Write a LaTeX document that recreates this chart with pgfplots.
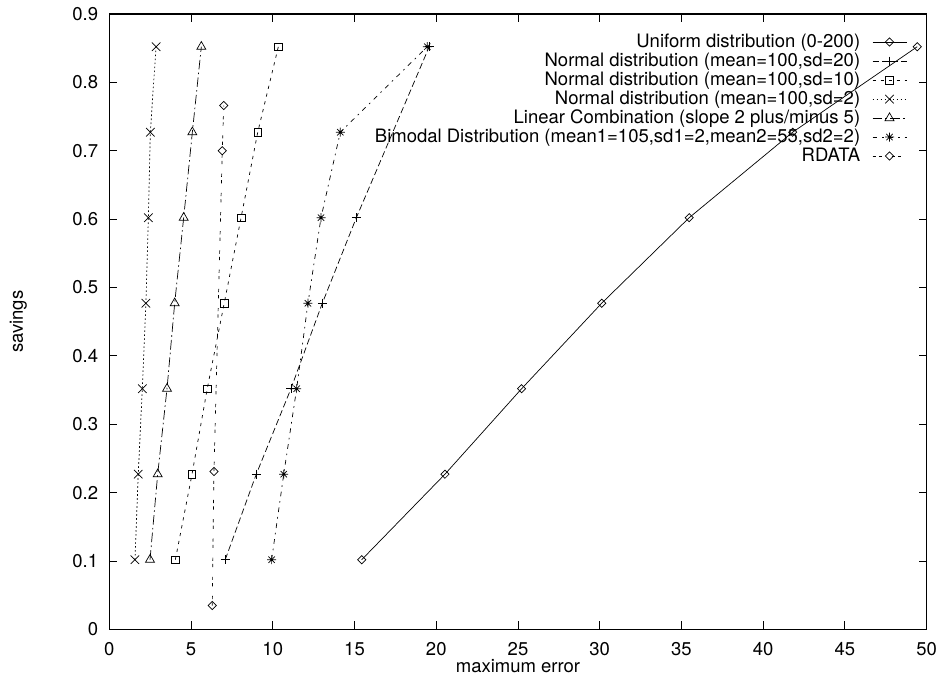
\documentclass[border=0pt]{standalone}
\usepackage{fontspec}
\setmainfont{TeX Gyre Heros}
\usepackage{pgfplots}
\pgfplotsset{compat=1.18}
\newcommand{\gf}{\fontsize{18.5}{22}\selectfont}
\pgfdeclareplotmark{gpstar}{%
  \pgfpathmoveto{\pgfqpoint{-\pgfplotmarksize}{0pt}}\pgfpathlineto{\pgfqpoint{\pgfplotmarksize}{0pt}}%
  \pgfpathmoveto{\pgfqpoint{0pt}{-\pgfplotmarksize}}\pgfpathlineto{\pgfqpoint{0pt}{\pgfplotmarksize}}%
  \pgfpathmoveto{\pgfqpoint{-.7071\pgfplotmarksize}{-.7071\pgfplotmarksize}}\pgfpathlineto{\pgfqpoint{.7071\pgfplotmarksize}{.7071\pgfplotmarksize}}%
  \pgfpathmoveto{\pgfqpoint{-.7071\pgfplotmarksize}{.7071\pgfplotmarksize}}\pgfpathlineto{\pgfqpoint{.7071\pgfplotmarksize}{-.7071\pgfplotmarksize}}%
  \pgfusepathqstroke}
\begin{document}
\begin{tikzpicture}
\begin{axis}[name=ax, scale only axis, width=817.4pt, height=615.6pt,
  xmin=0, xmax=50, ymin=0, ymax=0.9,
  xtick={0,5,10,15,20,25,30,35,40,45,50},
  ytick={0,0.1,0.2,0.3,0.4,0.5,0.6,0.7,0.8,0.9},
  tick align=inside, tick pos=both, major tick length=8pt,
  axis line style={line width=1.3pt},
  every tick/.style={line width=1pt, black},
  font=\gf,
  /pgf/number format/assume math mode=true,
  yticklabel style={font=\gf, inner xsep=0pt, xshift=-11pt},
  xticklabel style={font=\gf, inner ysep=0pt, yshift=-13pt},
  xlabel={maximum error}, ylabel={savings},
  every axis x label/.style={at={(axis description cs:0.5,-0.0702)}, anchor=base, font=\gf},
  every axis y label/.style={at={(axis description cs:-0.1113,0.5)}, anchor=center, rotate=90, font=\gf},
  legend cell align=right, legend plot pos=right,
  legend style={at={(axis description cs:0.976,0.970)}, anchor=north east, draw=none, fill=none,
    inner sep=0pt, row sep=0pt, column sep=12pt, font=\gf,
    nodes={inner ysep=1pt, inner xsep=0pt, text height=13.5pt, text depth=3.5pt}},
  legend image code/.code={\draw[mark repeat=2,mark phase=2] plot coordinates {(0pt,0pt)(17pt,0pt)(34pt,0pt)};},
  every axis plot/.append style={black, line width=0.7pt},
]
\addplot[mark=square, mark size=2.9pt, mark options={rotate=45, solid}] coordinates {
 (15.44,0.102)(20.53,0.227)(25.22,0.352)(30.12,0.477)(35.47,0.602)(41.8,0.727)(49.42,0.852)};
\addlegendentry{Uniform distribution (0-200)}
\addplot[dash pattern=on 6.4pt off 3.2pt, mark=+, mark size=4.5pt, mark options={solid}] coordinates {
 (7.09,0.102)(8.99,0.227)(11.11,0.352)(13.03,0.477)(15.11,0.602)(19.57,0.852)};
\addlegendentry{Normal distribution (mean=100,sd=20)}
\addplot[dash pattern=on 3.2pt off 4.8pt, mark=square, mark size=3.8pt, mark options={solid}] coordinates {
 (4.04,0.102)(5.06,0.227)(5.99,0.352)(7.03,0.477)(8.06,0.602)(9.08,0.727)(10.34,0.852)};
\addlegendentry{Normal distribution (mean=100,sd=10)}
\addplot[dash pattern=on 1.6pt off 2.4pt, mark=x, mark size=6pt, mark options={solid}] coordinates {
 (1.57,0.102)(1.77,0.227)(2.02,0.352)(2.24,0.477)(2.39,0.602)(2.51,0.727)(2.86,0.852)};
\addlegendentry{Normal distribution (mean=100,sd=2)}
\addplot[dash pattern=on 9.6pt off 3.2pt on 1.6pt off 3.2pt, mark=triangle, mark size=5.2pt, mark options={solid}] coordinates {
 (2.49,0.102)(2.96,0.227)(3.53,0.352)(4.00,0.477)(4.55,0.602)(5.08,0.727)(5.63,0.852)};
\addlegendentry{Linear Combination (slope 2 plus/minus 5)}
\addplot[dash pattern=on 4.8pt off 4.8pt on 1.6pt off 4.8pt, mark=gpstar, mark size=4.5pt, mark options={solid}] coordinates {
 (9.93,0.102)(10.67,0.227)(11.46,0.352)(12.15,0.477)(12.95,0.602)(14.13,0.727)(19.45,0.852)};
\addlegendentry{Bimodal Distribution (mean1=105,sd1=2,mean2=55,sd2=2)}
\addplot[dash pattern=on 3.2pt off 3.2pt on 3.2pt off 9.6pt, mark=square, mark size=2.9pt, mark options={rotate=45, solid}] coordinates {
 (6.30,0.035)(6.40,0.231)(6.91,0.700)(7.00,0.766)};
\addlegendentry{RDATA}
\end{axis}
\pgfresetboundingbox
\path[use as bounding box] ([shift={(-109.3pt,-51.5pt)}]ax.south west) rectangle ([shift={(13.3pt,13.9pt)}]ax.north east);
\end{tikzpicture}
\end{document}
